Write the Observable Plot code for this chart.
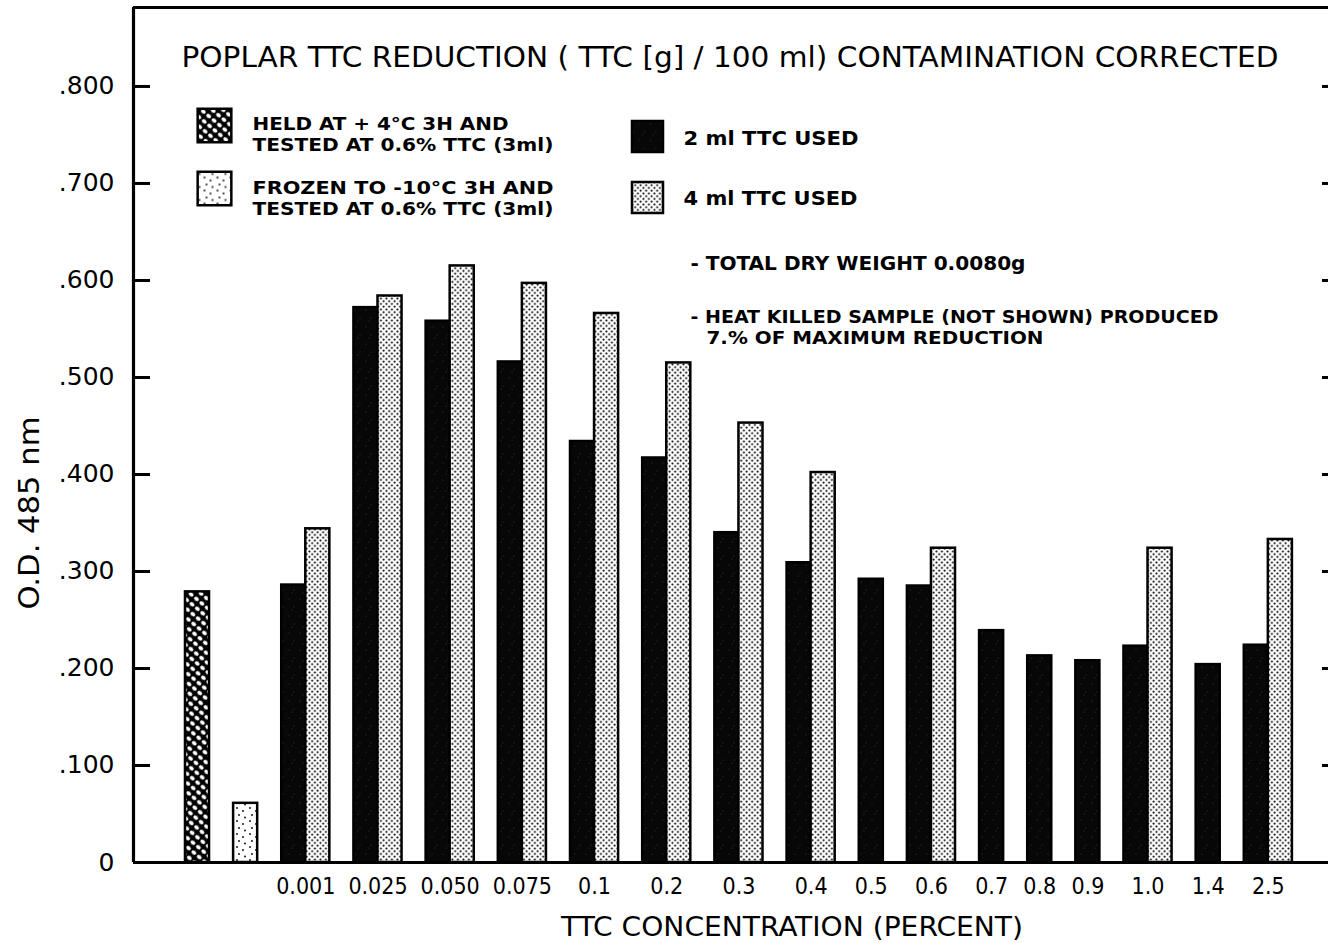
<!DOCTYPE html>
<html>
<head>
<meta charset="utf-8">
<script src="https://cdn.jsdelivr.net/npm/d3@7"></script>
<script src="https://cdn.jsdelivr.net/npm/@observablehq/plot@0.6"></script>
<style>
  html, body { margin: 0; padding: 0; background: #fff; }
  #chart svg { display: block; }
</style>
</head>
<body>
<div id="chart"></div>
<script>
// Pretreated samples tested at 0.6% TTC (3 ml)
const pretreatments = ["HELD AT +4°C 3H", "FROZEN TO -10°C 3H"];
const pretreatOD = [0.279, 0.061];

// TTC concentration series (O.D. at 485 nm)
const concentrations = ["0.001", "0.025", "0.050", "0.075", "0.1", "0.2", "0.3", "0.4",
                        "0.5", "0.6", "0.7", "0.8", "0.9", "1.0", "1.4", "2.5"];
const od2ml = [0.286, 0.572, 0.558, 0.516, 0.434, 0.417, 0.340, 0.309,
               0.292, 0.285, 0.239, 0.213, 0.208, 0.223, 0.204, 0.224];
const od4ml = [0.344, 0.584, 0.615, 0.597, 0.566, 0.515, 0.453, 0.402,
               null, 0.324, null, null, null, 0.324, null, 0.333];

// Value axis
const yTicks = [0, 0.1, 0.2, 0.3, 0.4, 0.5, 0.6, 0.7, 0.8];
const yTickLabels = ["0", ".100", ".200", ".300", ".400", ".500", ".600", ".700", ".800"];

// Texts
const titleText = "POPLAR TTC REDUCTION ( TTC [g] / 100 ml) CONTAMINATION CORRECTED";
const xTitle = "TTC CONCENTRATION (PERCENT)";
const yTitle = "O.D. 485 nm";
const heldLines = ["HELD AT + 4°C 3H AND", "TESTED AT 0.6% TTC (3ml)"];
const frozenLines = ["FROZEN TO -10°C 3H AND", "TESTED AT 0.6% TTC (3ml)"];
const seriesLabels = ["2 ml TTC USED", "4 ml TTC USED"];
const noteDry = "- TOTAL DRY WEIGHT 0.0080g";
const noteHeat = ["- HEAT KILLED SAMPLE (NOT SHOWN) PRODUCED", "7.% OF MAXIMUM REDUCTION"];

// Fills (SVG patterns defined below)
const FILL_HELD = "url(#pat-held)";
const FILL_FROZEN = "url(#pat-frozen)";
const FILL_2ML = "url(#pat-dark)";
const FILL_4ML = "url(#pat-dots)";

// Lay bars out on a slot axis: one slot per bar, one empty slot between groups
const bars = [];
const groups = [];
let slot = 0;
pretreatments.forEach((p, i) => {
  bars.push({slot, od: pretreatOD[i], fill: i === 0 ? FILL_HELD : FILL_FROZEN});
  slot += 2;
});
concentrations.forEach((c, i) => {
  const start = slot;
  bars.push({slot, od: od2ml[i], fill: FILL_2ML});
  slot += 1;
  if (od4ml[i] != null) {
    bars.push({slot, od: od4ml[i], fill: FILL_4ML});
    slot += 1;
  }
  groups.push({label: c, center: (start + slot) / 2});
  slot += 1;
});

const xDomain = [-2.16, 47.5];
const yDomain = [0, 0.8814];
const FONT = "DejaVu Sans";
const FONT_C = "DejaVu Sans Condensed";

// Pattern definitions for the bar fills
function patterns() {
  const defs = d3.create("svg:defs");
  // dense dot screen
  const dots = defs.append("pattern").attr("id", "pat-dots")
    .attr("patternUnits", "userSpaceOnUse").attr("width", 5.5).attr("height", 5.5);
  dots.append("rect").attr("width", 5.5).attr("height", 5.5).attr("fill", "#fff");
  dots.append("circle").attr("cx", 1.4).attr("cy", 1.4).attr("r", 1.05).attr("fill", "#000");
  dots.append("circle").attr("cx", 4.15).attr("cy", 4.15).attr("r", 1.05).attr("fill", "#000");
  // sparse dots
  const fr = defs.append("pattern").attr("id", "pat-frozen")
    .attr("patternUnits", "userSpaceOnUse").attr("width", 13).attr("height", 13);
  fr.append("rect").attr("width", 13).attr("height", 13).attr("fill", "#fff");
  [[3, 2], [9, 5], [5, 9], [11, 11.5]].forEach(([x, y]) =>
    fr.append("circle").attr("cx", x).attr("cy", y).attr("r", 0.9).attr("fill", "#000"));
  // chain-link hatch
  const held = defs.append("pattern").attr("id", "pat-held")
    .attr("patternUnits", "userSpaceOnUse").attr("width", 7).attr("height", 7)
    .attr("patternTransform", "rotate(40)");
  held.append("rect").attr("width", 7).attr("height", 7).attr("fill", "#000");
  held.append("ellipse").attr("cx", 3.5).attr("cy", 3.5).attr("rx", 2.6).attr("ry", 2.0).attr("fill", "#fff");
  // near-solid dark with faint speckle
  const dark = defs.append("pattern").attr("id", "pat-dark")
    .attr("patternUnits", "userSpaceOnUse").attr("width", 11).attr("height", 17);
  dark.append("rect").attr("width", 11).attr("height", 17).attr("fill", "#070707");
  [[3, 4], [8, 12], [6, 15]].forEach(([x, y]) =>
    dark.append("circle").attr("cx", x).attr("cy", y).attr("r", 0.5).attr("fill", "#444"));
  return defs.node();
}

// Legend / note line, anchored to the top-left corner of the frame
function label(lines, dx, dy, opts = {}) {
  return Plot.text(lines, {
    frameAnchor: "top-left", text: d => d, dx, dy,
    textAnchor: "start", lineAnchor: "middle",
    fontFamily: FONT_C, fontWeight: "bold", fontSize: 18,
    fill: "#000", ...opts
  });
}

const chart = Plot.plot({
  width: 1328,
  height: 943,
  marginLeft: 133,
  marginRight: 0,
  marginTop: 7,
  marginBottom: 81,
  style: {background: "#fff", color: "#000"},
  color: {type: "identity"},
  x: {domain: xDomain, axis: null},
  y: {domain: yDomain, axis: null, label: null},
  marks: [
    patterns,
    // bars
    Plot.rectY(bars, {x1: "slot", x2: d => d.slot + 1, y1: 0, y2: "od",
      fill: "fill", stroke: "#000", strokeWidth: 2.5}),
    // frame: baseline, left axis line, top line
    Plot.ruleY([yDomain[0]], {stroke: "#000", strokeWidth: 3.2}),
    Plot.ruleX([xDomain[0]], {stroke: "#000", strokeWidth: 3.2}),
    Plot.ruleY([yDomain[1]], {stroke: "#000", strokeWidth: 3}),
    // value axis, ticks pointing inward
    Plot.axisY({anchor: "left", ticks: yTicks, tickSize: -17, tickPadding: 36,
      tickFormat: d => yTickLabels[yTicks.indexOf(d)], label: null,
      strokeWidth: 3, fontSize: 25, fontFamily: FONT}),
    Plot.axisY({anchor: "right", ticks: yTicks.slice(1), tickSize: -7,
      tickFormat: () => "", label: null, strokeWidth: 3}),
    // concentration labels
    Plot.text(groups, {x: "center", y: yDomain[0], text: "label", dy: 24,
      fontSize: 23, fontFamily: FONT_C}),
    // axis titles
    Plot.text([xTitle], {frameAnchor: "bottom", text: d => d, dx: 61, dy: 65,
      textAnchor: "middle", lineAnchor: "middle", fontSize: 26, fontFamily: FONT_C}),
    Plot.text([yTitle], {frameAnchor: "left", text: d => d, dx: -103, dy: 78,
      textAnchor: "middle", lineAnchor: "middle", rotate: -90, fontSize: 28, fontFamily: FONT}),
    // title
    Plot.text([titleText], {frameAnchor: "top-left", text: d => d, dx: 48, dy: 50,
      textAnchor: "start", lineAnchor: "middle", fontSize: 29, fontFamily: FONT}),
    // legend swatches
    Plot.dot([FILL_HELD], {frameAnchor: "top-left", dx: 81, dy: 118, symbol: "square",
      r: 19, fill: d => d, stroke: "#000", strokeWidth: 2.5}),
    Plot.dot([FILL_FROZEN], {frameAnchor: "top-left", dx: 81, dy: 181, symbol: "square",
      r: 19, fill: d => d, stroke: "#000", strokeWidth: 2.5}),
    Plot.dot([FILL_2ML], {frameAnchor: "top-left", dx: 514, dy: 129, symbol: "square",
      r: 17.5, fill: d => d, stroke: "#000", strokeWidth: 2.5}),
    Plot.dot([FILL_4ML], {frameAnchor: "top-left", dx: 514, dy: 190, symbol: "square",
      r: 17.5, fill: d => d, stroke: "#000", strokeWidth: 2.5}),
    // legend texts
    label([heldLines[0]], 119, 117),
    label([heldLines[1]], 119, 138),
    label([frozenLines[0]], 119, 181),
    label([frozenLines[1]], 119, 202),
    label([seriesLabels[0]], 550, 131, {fontSize: 20}),
    label([seriesLabels[1]], 550, 191, {fontSize: 20}),
    label([noteDry], 557, 256, {fontSize: 20}),
    label([noteHeat[0]], 557, 310),
    label([noteHeat[1]], 573, 331)
  ]
});

document.getElementById("chart").appendChild(chart);

// Set exact run lengths for the lettered texts
const textWidths = new Map([
  [titleText, 1097],
  [xTitle, 462],
  [yTitle, 193],
  [heldLines[0], 256],
  [heldLines[1], 301],
  [frozenLines[0], 301],
  [seriesLabels[0], 175],
  [seriesLabels[1], 174],
  [noteDry, 335],
  [noteHeat[0], 528],
  [noteHeat[1], 337]
]);
d3.select(chart).selectAll("text").each(function () {
  const w = textWidths.get(this.textContent);
  if (w) {
    this.setAttribute("textLength", w);
    this.setAttribute("lengthAdjust", "spacingAndGlyphs");
  }
});
</script>
</body>
</html>
